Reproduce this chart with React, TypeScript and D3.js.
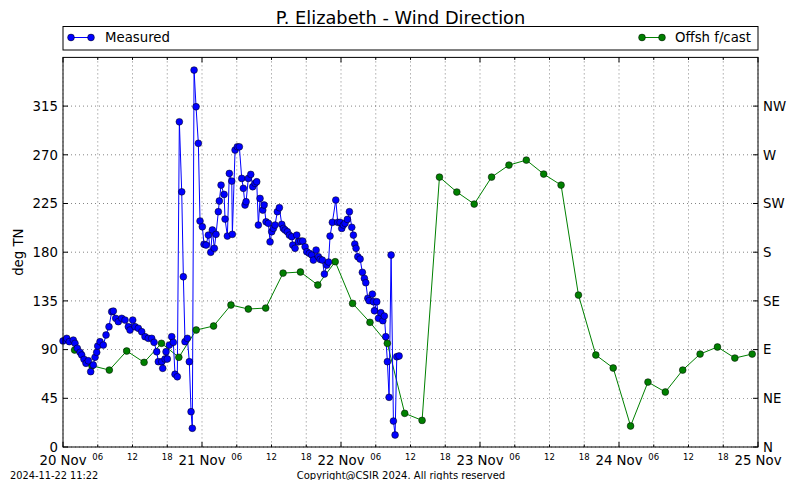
import React from "react";
import * as d3 from "d3";

const TITLE = "P. Elizabeth - Wind Direction";
const START = Date.UTC(2024, 10, 20, 0, 0);
const END = Date.UTC(2024, 10, 25, 0, 0);

// Measured: hours since 20 Nov 00:00, direction deg TN
const measuredHours = [
  0, 0.64, 1.09, 1.78, 2.07, 2.47, 2.94, 3.23, 3.63, 3.97, 4.37, 4.78, 5.23, 5.53, 5.82, 5.99, 6.39, 6.96, 7.43, 7.94,
  8.41, 8.69, 9.1, 9.55, 10.14, 10.71, 11.28, 11.57, 12.04, 12.44, 13.01, 13.59, 14.16, 14.73, 15.32, 15.72, 16.18, 16.46, 17.05, 17.22,
  17.62, 17.79, 18.01, 18.36, 18.77, 19.05, 19.34, 19.74, 20.09, 20.5, 20.78, 21.07, 21.47, 21.81, 22.11, 22.33, 22.63, 22.97, 23.37, 23.66,
  24.06, 24.35, 24.7, 25.1, 25.51, 25.79, 26.13, 26.42, 26.82, 26.99, 27.29, 27.81, 27.98, 28.38, 28.72, 29.14, 29.24, 29.71, 30.1, 30.45,
  30.86, 31.14, 31.43, 31.61, 32.0, 32.42, 32.76, 33.16, 33.45, 33.73, 34.02, 34.49, 34.72, 35.06, 35.46, 35.75, 36.04, 36.32, 36.61, 37.01,
  37.36, 37.77, 38.05, 38.34, 38.74, 39.08, 39.5, 39.67, 40.07, 40.36, 40.64, 41.05, 41.4, 41.8, 42.09, 42.54, 42.95, 43.23, 43.7, 44.09,
  44.39, 44.78, 45.13, 45.54, 45.85, 46.11, 46.51, 47.1, 47.44, 47.84, 48.13, 48.41, 48.7, 49.1, 49.45, 49.86, 50.14, 50.38, 50.6, 50.9,
  51.3, 51.69, 52.04, 52.28, 52.63, 52.85, 53.42, 53.59, 53.77, 54.18, 54.46, 54.87, 55.22, 55.49, 55.73, 56.01, 56.3, 56.65, 57.05, 57.34,
  57.63, 58.03,
];
const measuredDeg = [
  98, 100.4, 97.3, 98.8, 95.8, 91.2, 87.5, 85, 81, 77.3, 79.7, 69.6, 75.8, 82.9, 87.5, 93.3, 97.3, 94.2, 103.5, 111.1,
  125, 125.6, 118.9, 115.8, 118.9, 117.3, 111.1, 108.1, 117.3, 111.1, 109.7, 106.5, 101.9, 100.4, 100.4, 96.7, 88, 78.8, 78.8, 72.7,
  81.3, 88, 81.3, 94.2, 101.9, 96.7, 67.2, 64.9, 300.5, 235.8, 157.3, 97.3, 100.4, 78.8, 32.6, 17.3, 348.3, 314.4, 280.6, 208.8,
  203.5, 187.3, 186.6, 195.8, 179.9, 200.5, 183.6, 196.5, 217.4, 227.3, 242, 233.4, 210.6, 194.9, 252.8, 245.7, 196.5, 274.4, 277.4, 277.4,
  248.2, 239, 223.6, 226.6, 248.2, 251.9, 240.5, 243.6, 245.1, 205.1, 229.7, 218.9, 223.6, 208.1, 206.7, 189.6, 198.9, 202, 205.1, 217.4,
  221.1, 205.7, 202, 200.5, 198.9, 195.8, 194.3, 186.6, 183.6, 195.8, 189.6, 190.3, 190.3, 185, 180.4, 178.9, 177.4, 172.7, 182, 175.8,
  173.4, 172.7, 159.8, 168.1, 170.9, 194.9, 207.6, 228.2, 207.6, 207.6, 202, 205.1, 206.7, 210.3, 217.4, 203, 195.8, 187.5, 183.6, 175.8,
  173.7, 161.4, 155.8, 151.8, 137.4, 135.2, 141.3, 134.2, 125.9, 134.2, 118.9, 124.1, 116.7, 121, 101.9, 78.8, 45.9, 177.4, 24, 11.1,
  83.4, 84.1,
];

// Offshore forecast: every 3 hours from 20 Nov 02:00
const forecastHours = [
  2, 5, 8, 11, 14, 17, 20, 23, 26, 29, 32, 35, 38, 41, 44, 47, 50, 53, 56, 59,
  62, 65, 68, 71, 74, 77, 80, 83, 86, 89, 92, 95, 98, 101, 104, 107, 110, 113, 116, 119,
];
const forecastDeg = [
  89.6, 75.1, 71.1, 88.7, 78.2, 95.8, 82.9, 108.1, 111.8, 131.2, 127.5, 128.4, 160.7, 161.7, 149.7, 171.2, 132.7, 115.2, 95.8, 31.1,
  24.6, 249.4, 235.6, 224.5, 249.4, 260.5, 265.1, 252.2, 242, 140.4, 85, 73, 19.4, 60, 50.8, 71.1, 85.9, 92.4, 82.2, 85.9,
];

const yTicks = [0, 45, 90, 135, 180, 225, 270, 315];
const compassLabels = ["N", "NE", "E", "SE", "S", "SW", "W", "NW"];

const W = 800;
const H = 480;
const L = 63;
const R = 758;
const T = 57.4;
const B = 447;
const FONT = "DejaVu Sans, sans-serif";

const BLUE = "#0000ff";
const GREEN = "#008000";

export default function App() {
  const x = d3.scaleUtc().domain([new Date(START), new Date(END)]).range([L, R]);
  const y = d3.scaleLinear().domain([0, 360]).range([B, T]);
  const hToDate = (h: number) => new Date(START + h * 3600 * 1000);

  const measured = measuredHours.map((h, i) => [hToDate(h), measuredDeg[i]] as [Date, number]);
  const forecast = forecastHours.map((h, i) => [hToDate(h), forecastDeg[i]] as [Date, number]);

  const line = d3
    .line<[Date, number]>()
    .x((d) => x(d[0]))
    .y((d) => y(d[1]));

  const majorTicks = d3.utcDay.range(new Date(START), new Date(END + 1));
  const allTicks = d3.utcHour.every(6)!.range(new Date(START), new Date(END + 1));
  const minorTicks = allTicks.filter((d) => d.getUTCHours() !== 0);
  const dayFmt = d3.utcFormat("%-d %b");
  const hourFmt = d3.utcFormat("%H");

  const gridStyle = { stroke: "#000", strokeWidth: 0.6, strokeDasharray: "1 3", opacity: 0.8 };

  return (
    <svg
      width={W}
      height={H}
      viewBox={`0 0 ${W} ${H}`}
      style={{ position: "absolute", left: 0, top: 0, background: "#fff" }}
      fontFamily={FONT}
    >
      <rect x={0} y={0} width={W} height={H} fill="#fff" />
      <text x={400.5} y={24} textAnchor="middle" fontSize={17.8} fill="#000">
        {TITLE}
      </text>

      {/* legend */}
      <rect x={L} y={26.5} width={R - L} height={23.5} fill="#fff" stroke="#000" strokeWidth={1} />
      <line x1={71} x2={91} y1={37.5} y2={37.5} stroke={BLUE} strokeWidth={1} />
      <circle cx={71} cy={37.5} r={3.4} fill={BLUE} stroke="#000" strokeWidth={0.5} />
      <circle cx={91} cy={37.5} r={3.4} fill={BLUE} stroke="#000" strokeWidth={0.5} />
      <text x={105} y={42} fontSize={13.3} fill="#000">
        Measured
      </text>
      <line x1={642} x2={662} y1={37.5} y2={37.5} stroke={GREEN} strokeWidth={1} />
      <circle cx={642} cy={37.5} r={3.4} fill={GREEN} stroke="#000" strokeWidth={0.5} />
      <circle cx={662} cy={37.5} r={3.4} fill={GREEN} stroke="#000" strokeWidth={0.5} />
      <text x={675} y={42} fontSize={13.3} fill="#000">
        Offsh f/cast
      </text>

      {/* grid */}
      {allTicks.map((d, i) => (
        <line key={"gx" + i} x1={x(d)} x2={x(d)} y1={T} y2={B} {...gridStyle} />
      ))}
      {yTicks.map((v) => (
        <line key={"gy" + v} x1={L} x2={R} y1={y(v)} y2={y(v)} {...gridStyle} />
      ))}

      {/* data */}
      <g>
        <path d={line(forecast) || ""} fill="none" stroke={GREEN} strokeWidth={1} />
        <path d={line(measured) || ""} fill="none" stroke={BLUE} strokeWidth={1} />
        {forecast.map((d, i) => (
          <circle key={"f" + i} cx={x(d[0])} cy={y(d[1])} r={3.4} fill={GREEN} stroke="#000" strokeWidth={0.5} />
        ))}
        {measured.map((d, i) => (
          <circle key={"m" + i} cx={x(d[0])} cy={y(d[1])} r={3.4} fill={BLUE} stroke="#000" strokeWidth={0.5} />
        ))}
      </g>

      {/* frame */}
      <rect x={L} y={T} width={R - L} height={B - T} fill="none" stroke="#000" strokeWidth={1} />

      {/* y ticks left & right */}
      {yTicks.map((v, i) => (
        <g key={"yt" + v}>
          <line x1={L} x2={L + 5} y1={y(v)} y2={y(v)} stroke="#000" />
          <line x1={R - 5} x2={R} y1={y(v)} y2={y(v)} stroke="#000" />
          <text x={L - 5} y={y(v) + 4.7} textAnchor="end" fontSize={13.3} fill="#000">
            {v}
          </text>
          <text x={R + 5} y={y(v) + 4.7} textAnchor="start" fontSize={13.3} fill="#000">
            {compassLabels[i]}
          </text>
        </g>
      ))}

      {/* x ticks */}
      {majorTicks.map((d, i) => (
        <g key={"xm" + i}>
          <line x1={x(d)} x2={x(d)} y1={B} y2={B - 5} stroke="#000" />
          <line x1={x(d)} x2={x(d)} y1={T} y2={T + 5} stroke="#000" />
          <text x={x(d)} y={465} textAnchor="middle" fontSize={13.3} fill="#000">
            {dayFmt(d)}
          </text>
        </g>
      ))}
      {minorTicks.map((d, i) => (
        <g key={"xn" + i}>
          <line x1={x(d)} x2={x(d)} y1={B} y2={B - 2.5} stroke="#000" />
          <line x1={x(d)} x2={x(d)} y1={T} y2={T + 2.5} stroke="#000" />
          <text x={x(d)} y={460} textAnchor="middle" fontSize={8.5} fill="#000">
            {hourFmt(d)}
          </text>
        </g>
      ))}

      <text
        transform={`translate(23, ${(T + B) / 2}) rotate(-90)`}
        textAnchor="middle"
        fontSize={13.3}
        fill="#000"
      >
        deg TN
      </text>

      <text x={10} y={479} fontSize={9.8} fill="#000">
        2024-11-22 11:22
      </text>
      <text x={401} y={479} textAnchor="middle" fontSize={10} fill="#000">
        Copyright@CSIR 2024. All rights reserved
      </text>
    </svg>
  );
}
